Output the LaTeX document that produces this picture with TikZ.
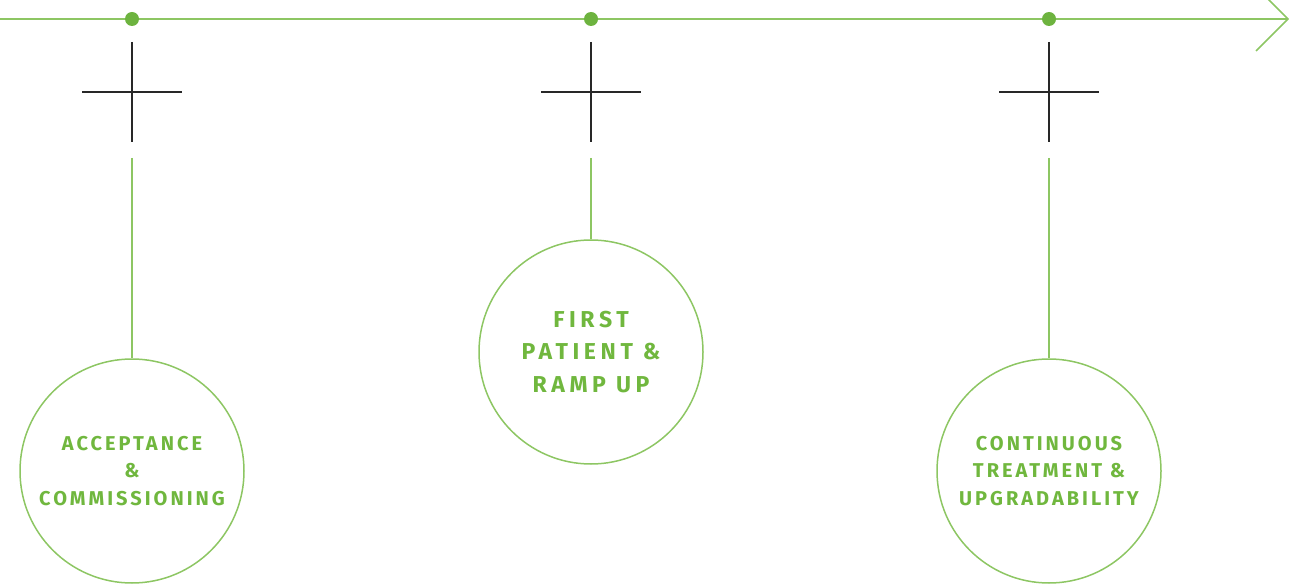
\documentclass[tikz,border=0pt]{standalone}
\usepackage{fontspec}
\newfontfamily\labfont[LetterSpace=15]{Fira Sans}
\newfontfamily\biglabfont[LetterSpace=20]{Fira Sans}
\definecolor{gline}{RGB}{141,198,99}
\definecolor{gdot}{RGB}{109,179,63}
\definecolor{gtext}{RGB}{112,183,62}
\definecolor{crossc}{RGB}{40,40,40}
\tikzset{
  tline/.style={draw=gline, line width=1.5pt},
  gdotstyle/.style={circle, fill=gdot, minimum size=14pt, inner sep=0pt},
  crossline/.style={draw=crossc, line width=1.2pt},
  stem/.style={draw=gline, line width=1.5pt},
  bigcirc/.style={circle, draw=gline, line width=1.5pt, minimum size=224pt, inner sep=0pt,
    align=center, text=gtext},
  smalllab/.style={font=\labfont\bfseries\fontsize{20}{27.5}\selectfont},
  biglab/.style={font=\biglabfont\bfseries\fontsize{23}{32.5}\selectfont},
}
\begin{document}
\begin{tikzpicture}[x=1pt,y=-1pt]
\useasboundingbox (0,0) rectangle (1303,585);
\clip (0,0) rectangle (1303,585);
% timeline
\coordinate (tstart) at (0,19);
\coordinate (tip) at (1288,19);
\coordinate (barbA) at (1256,-13);
\coordinate (barbB) at (1256,51);
\draw[tline] (tstart) -- (tip);
\draw[tline, line join=miter] (barbA) -- (tip) -- (barbB);
% dots
\node[gdotstyle] (d1) at (132,19) {};
\node[gdotstyle] (d2) at (591,19) {};
\node[gdotstyle] (d3) at (1049,19) {};
% crosses
\foreach \i/\x in {1/132,2/591,3/1049}{
  \coordinate (cvt\i) at (\x,42);
  \coordinate (cvb\i) at (\x,142);
  \coordinate (chl\i) at (\x-50,92);
  \coordinate (chr\i) at (\x+50,92);
  \coordinate (st\i) at (\x,158);
  \draw[crossline] (cvt\i) -- (cvb\i);
  \draw[crossline] (chl\i) -- (chr\i);
}
% circles
\node[bigcirc, smalllab] (c1) at (132,471) {ACCEPTANCE\\\&\\COMMISSIONING};
\node[bigcirc, biglab] (c2) at (591,352) {FIRST\\PATIENT \&\\RAMP UP};
\node[bigcirc, smalllab] (c3) at (1049,471) {CONTINUOUS\\TREATMENT \&\\UPGRADABILITY};
% stems
\draw[stem] (st1) -- (c1.north);
\draw[stem] (st2) -- (c2.north);
\draw[stem] (st3) -- (c3.north);
\end{tikzpicture}
\end{document}
